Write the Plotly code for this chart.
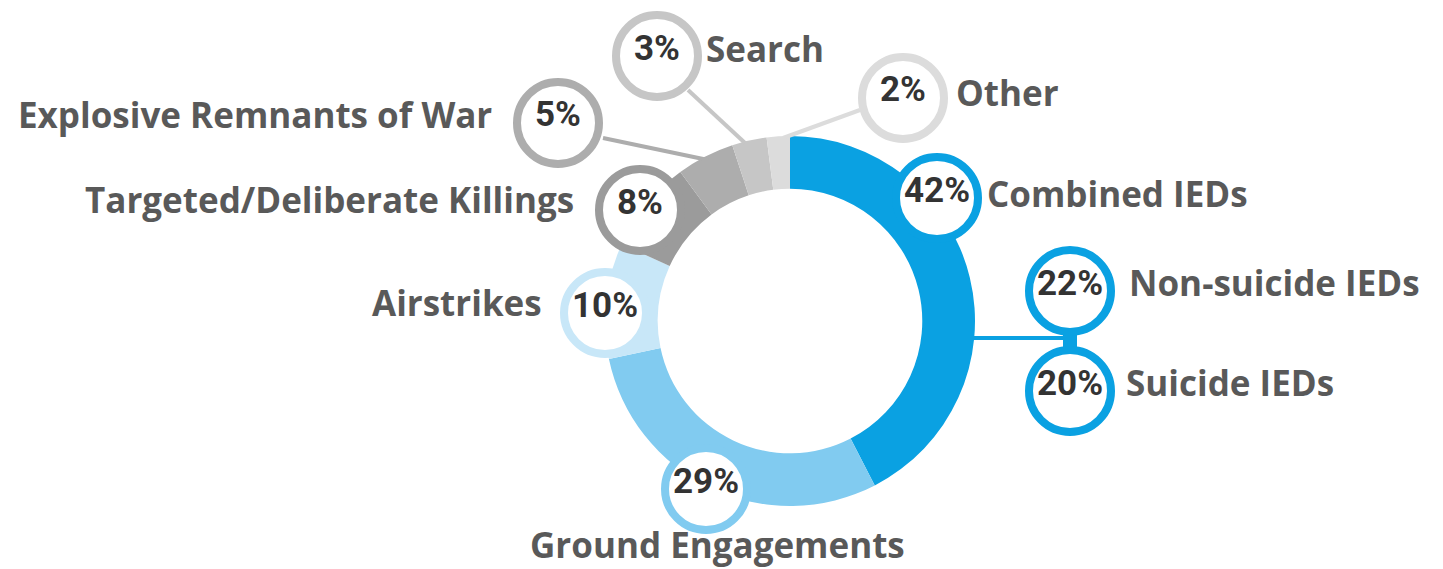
import plotly.graph_objects as go

# ---- data ----
categories = ["Combined IEDs", "Ground Engagements", "Airstrikes",
              "Targeted/Deliberate Killings", "Explosive Remnants of War",
              "Search", "Other"]
values = [42, 29, 10, 8, 5, 3, 2]
ied_sub_labels = ["Non-suicide IEDs", "Suicide IEDs"]
ied_sub_values = [22, 20]

# ---- styling ----
slice_colors = ["#0aa1e2", "#81cbf0", "#c8e7f8", "#9b9b9b", "#adadad", "#c6c6c6", "#dcdcdc"]
W, H = 1443, 569
CX, CY, R = 782, 313, 185
label_color = "#595959"
pct_color = "#333333"
label_font = dict(family="Open Sans, Liberation Sans, sans-serif", size=35, color=label_color, weight="bold")
pct_font = dict(family="Roboto, Liberation Sans, sans-serif", size=35, color=pct_color, weight="bold")

def px(x):
    return x / W

def py(y):
    return 1 - y / H

fig = go.Figure()
fig.add_trace(go.Pie(
    labels=categories, values=values, sort=False, direction="clockwise",
    rotation=0, hole=0.715, textinfo="none", showlegend=False,
    marker=dict(colors=slice_colors, line=dict(width=0)),
    domain=dict(x=[px(CX - R), px(CX + R)], y=[py(CY + R), py(CY - R)]),
))

# bubble layout: (center x, center y, border colour, value, label, label x, label y, anchor)
bubbles = [
    (929, 190, slice_colors[0], values[0], categories[0], 977, 186, "left"),
    (698, 481, slice_colors[1], values[1], categories[1], 709, 536, "center"),
    (597, 305, slice_colors[2], values[2], categories[2], 536, 294, "right"),
    (632, 202, slice_colors[3], values[3], categories[3], 568, 191, "right"),
    (550, 115, slice_colors[4], values[4], categories[4], 486, 106, "right"),
    (649, 48, slice_colors[5], values[5], categories[5], 696, 40, "left"),
    (895, 90, slice_colors[6], values[6], categories[6], 946, 84, "left"),
    (1062, 283, slice_colors[0], ied_sub_values[0], ied_sub_labels[0], 1119, 274, "left"),
    (1062, 383, slice_colors[0], ied_sub_values[1], ied_sub_labels[1], 1116, 374, "left"),
]

shapes = []
# leader lines
leaders = [
    ((680, 82), (737, 135), slice_colors[5], 4),
    ((595, 130), (700, 152), slice_colors[4], 4),
    ((852, 102), (775, 130), slice_colors[6], 4),
    ((960, 330), (1062, 330), slice_colors[0], 4),
    ((1062, 318), (1062, 348), slice_colors[0], 14),
]
for (x0, y0), (x1, y1), c, w in leaders:
    shapes.append(dict(type="line", xref="paper", yref="paper",
                       x0=px(x0), y0=py(y0), x1=px(x1), y1=py(y1),
                       line=dict(color=c, width=w), layer="above"))

annotations = []
rad = 41
for cx, cy, c, v, lab, lx, ly, anc in bubbles:
    shapes.append(dict(type="circle", xref="paper", yref="paper",
                       x0=px(cx - rad), x1=px(cx + rad), y0=py(cy + rad), y1=py(cy - rad),
                       fillcolor="white", line=dict(color=c, width=8), layer="above"))
    annotations.append(dict(x=px(cx), y=py(cy - 8), xref="paper", yref="paper",
                            text=f"{v}%", showarrow=False, font=pct_font,
                            xanchor="center", yanchor="middle"))
    annotations.append(dict(x=px(lx), y=py(ly), xref="paper", yref="paper",
                            text=lab, showarrow=False, font=label_font,
                            xanchor=anc, yanchor="middle"))

fig.update_layout(
    width=W, height=H, margin=dict(l=0, r=0, t=0, b=0),
    paper_bgcolor="white", plot_bgcolor="white",
    shapes=shapes, annotations=annotations, showlegend=False,
)
fig.write_html("out.html")
